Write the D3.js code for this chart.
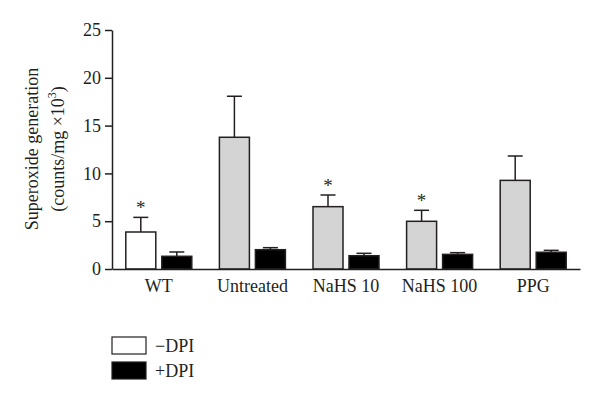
<!DOCTYPE html>
<html>
<head>
<meta charset="utf-8">
<script src="https://cdn.jsdelivr.net/npm/d3@7"></script>
<style>
  html, body { margin: 0; padding: 0; background: #fff; }
  svg { display: block; }
  text { font-family: "Liberation Serif", "DejaVu Serif", serif; fill: #231f20; }
</style>
</head>
<body>
<svg id="chart" width="600" height="404"></svg>
<script>
const categories = ["WT", "Untreated", "NaHS 10", "NaHS 100", "PPG"];
const series = ["\u2212DPI", "+DPI"];
const minusDPI = [3.87, 13.78, 6.52, 4.99, 9.27];
const minusDPIerr = [1.53, 4.29, 1.22, 1.15, 2.55];
const plusDPI = [1.33, 2.02, 1.39, 1.53, 1.75];
const plusDPIerr = [0.45, 0.21, 0.25, 0.18, 0.20];
const significant = [true, false, true, true, false];
const yTicks = [0, 5, 10, 15, 20, 25];

const svg = d3.select("#chart");
const ink = "#231f20";
const FONT = "Liberation Serif";

const y = d3.scaleLinear().domain([0, 25]).range([269, 30]);
const x0 = d3.scaleBand().domain(categories).range([112, 580]);
const bw = x0.bandwidth();
const x1 = d3.scaleBand().domain(series).range([bw / 2 - 33, bw / 2 + 33]).paddingInner(1 / 6);

const fills = { "\u2212DPI": "#ffffff", "+DPI": "#000000" };
const groupFill = (ci, s) => s === "+DPI" ? "#000000" : (ci === 0 ? "#ffffff" : "#d4d4d4");

const rows = [];
categories.forEach((c, i) => {
  rows.push({ cat: c, ci: i, s: series[0], v: minusDPI[i], e: minusDPIerr[i], sig: significant[i] });
  rows.push({ cat: c, ci: i, s: series[1], v: plusDPI[i], e: plusDPIerr[i], sig: false });
});

// error bars (upper only)
const eb = svg.append("g").attr("stroke", ink).attr("stroke-width", 1.5).attr("fill", "none");
rows.forEach(d => {
  const cx = x0(d.cat) + x1(d.s) + x1.bandwidth() / 2;
  eb.append("line").attr("x1", cx).attr("x2", cx).attr("y1", y(d.v)).attr("y2", y(d.v + d.e));
  eb.append("line").attr("x1", cx - 7.5).attr("x2", cx + 7.5).attr("y1", y(d.v + d.e)).attr("y2", y(d.v + d.e));
});

// bars
svg.append("g").selectAll("rect").data(rows).join("rect")
  .attr("x", d => x0(d.cat) + x1(d.s))
  .attr("y", d => y(d.v))
  .attr("width", x1.bandwidth())
  .attr("height", d => y(0) - y(d.v))
  .attr("fill", d => groupFill(d.ci, d.s))
  .attr("stroke", ink)
  .attr("stroke-width", 1.5);

// significance stars
svg.append("g").selectAll("text").data(rows.filter(d => d.sig)).join("text")
  .attr("x", d => x0(d.cat) + x1(d.s) + x1.bandwidth() / 2)
  .attr("y", d => y(d.v + d.e) - 3)
  .attr("text-anchor", "middle")
  .attr("font-size", 19)
  .attr("fill", ink)
  .text("*");

// y axis
const yAxis = svg.append("g").attr("transform", "translate(112,0)")
  .call(d3.axisLeft(y).tickValues(yTicks).tickSize(7).tickSizeOuter(0).tickPadding(4));
yAxis.selectAll("path, line").attr("stroke", ink).attr("stroke-width", 1.5);
yAxis.selectAll("text").attr("font-size", 18).attr("font-family", FONT).attr("fill", ink);

// x axis
const xAxis = svg.append("g").attr("transform", "translate(0,269)")
  .call(d3.axisBottom(x0).tickSize(0).tickSizeOuter(0).tickPadding(10));
xAxis.selectAll("path").attr("stroke", ink).attr("stroke-width", 1.5);
xAxis.selectAll("text").attr("font-size", 18).attr("font-family", FONT).attr("fill", ink);

// y label
const yl = svg.append("g").attr("transform", "translate(0,149) rotate(-90)");
yl.append("text").attr("x", 0).attr("y", 38).attr("text-anchor", "middle").attr("font-size", 18)
  .text("Superoxide generation");
const l2 = yl.append("text").attr("x", 0).attr("y", 64).attr("text-anchor", "middle").attr("font-size", 18);
l2.append("tspan").text("(counts/mg \u00d710");
l2.append("tspan").attr("dy", -8).attr("font-size", 12).text("3");
l2.append("tspan").attr("dy", 8).text(")");

// legend
const leg = svg.append("g");
series.forEach((s, i) => {
  leg.append("rect").attr("x", 112).attr("y", 337 + i * 25).attr("width", 34).attr("height", 17)
    .attr("fill", fills[s]).attr("stroke", ink).attr("stroke-width", 1.2);
  leg.append("text").attr("x", 155).attr("y", 352 + i * 25).attr("font-size", 18).text(s);
});
</script>
</body>
</html>
